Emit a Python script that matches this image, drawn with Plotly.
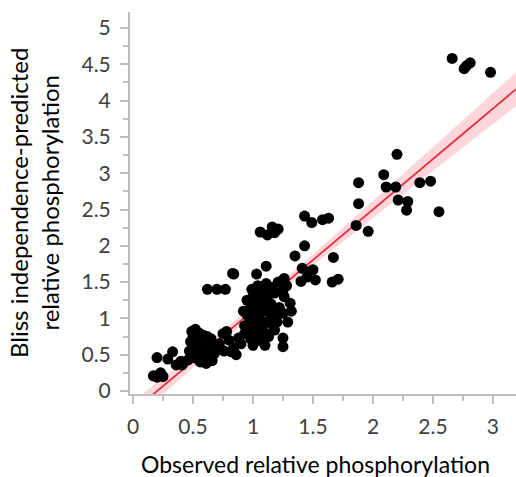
import numpy as np
import plotly.graph_objects as go

# Observed relative phosphorylation (x) vs Bliss independence-predicted (y)
obs = [
    0.17, 0.20, 0.23, 0.25, 0.22, 0.20, 0.29, 0.33, 0.36, 0.41, 0.46, 0.40,
    0.49, 0.52, 0.55, 0.50, 0.48, 0.53, 0.56, 0.50, 0.47, 0.52, 0.55, 0.58,
    0.60, 0.62, 0.65, 0.63, 0.57, 0.60, 0.53, 0.62, 0.66, 0.68, 0.70, 0.61,
    0.66, 0.56, 0.75, 0.72, 0.64, 0.58, 0.51, 0.82, 0.88, 0.80, 0.84, 0.78,
    0.93, 0.90, 0.86, 0.76,
    0.62, 0.70, 0.77, 0.84, 0.83,
    0.95, 0.98, 1.00, 1.02, 1.05, 1.08, 1.10, 1.12, 1.15, 1.18, 1.20, 1.22,
    0.95, 0.97, 1.00, 1.03, 1.06, 1.08, 1.12, 1.15, 1.17, 1.20, 1.25, 1.29,
    1.31, 1.25, 1.09, 1.00, 1.03, 0.98, 1.05, 1.10, 1.13, 1.18, 1.25, 1.25,
    1.10, 1.00, 0.93, 0.92, 1.07, 1.14, 1.02, 0.99, 1.04, 1.11, 1.16, 1.21,
    1.26, 1.03, 1.11, 1.06, 1.12, 1.16, 1.21, 1.18, 1.35, 1.43, 1.43, 1.49,
    1.58, 1.63, 1.41, 1.46, 1.50, 1.45, 1.52, 1.40, 1.66, 1.71, 1.67, 1.26,
    1.28, 1.32, 0.96,
    1.86, 1.96, 1.88, 1.88, 2.09, 2.11, 2.19, 2.20, 2.21, 2.29, 2.28, 2.39,
    2.48, 2.55, 2.66, 2.76, 2.78, 2.81, 2.98,
]
pred = [
    0.21, 0.19, 0.25, 0.20, 0.22, 0.46, 0.44, 0.54, 0.36, 0.36, 0.43, 0.41,
    0.82, 0.85, 0.80, 0.75, 0.68, 0.72, 0.66, 0.60, 0.55, 0.58, 0.53, 0.62,
    0.70, 0.75, 0.72, 0.62, 0.48, 0.45, 0.45, 0.55, 0.60, 0.52, 0.59, 0.38,
    0.42, 0.40, 0.79, 0.65, 0.50, 0.77, 0.65, 0.54, 0.73, 0.70, 0.60, 0.82,
    0.79, 0.65, 0.50, 0.55,
    1.40, 1.40, 1.40, 1.61, 1.62,
    1.25, 1.15, 1.30, 1.20, 1.35, 1.25, 1.10, 1.30, 1.20, 1.35, 1.05, 1.15,
    1.05, 0.95, 1.00, 1.08, 0.98, 0.90, 0.95, 1.00, 0.90, 0.95, 1.07, 0.95,
    1.21, 1.39, 1.35, 0.85, 0.78, 0.72, 0.70, 0.80, 0.75, 0.84, 0.73, 0.61,
    0.63, 0.63, 0.90, 1.10, 1.15, 1.10, 0.90, 1.40, 1.45, 1.48, 1.43, 1.50,
    1.55, 1.61, 1.72, 2.19, 2.15, 2.26, 2.23, 2.18, 1.86, 2.00, 2.41, 2.32,
    2.36, 2.38, 1.69, 1.64, 1.67, 1.57, 1.53, 1.51, 1.50, 1.54, 1.84, 1.30,
    1.45, 1.10, 0.80,
    2.28, 2.20, 2.58, 2.87, 2.98, 2.81, 2.81, 3.26, 2.63, 2.61, 2.49, 2.87,
    2.89, 2.47, 4.58, 4.44, 4.48, 4.52, 4.39,
]

# Regression line
fit_slope = 1.39
fit_intercept = -0.28

x_ticks = [0, 0.5, 1, 1.5, 2, 2.5, 3]
y_ticks = [0, 0.5, 1, 1.5, 2, 2.5, 3, 3.5, 4, 4.5, 5]
x_range = [-0.025, 3.192]
y_range = [-0.041, 5.22]

# 95% confidence band around the fitted line
xa = np.array(obs)
ya = np.array(pred)
n = len(xa)
resid = ya - (fit_slope * xa + fit_intercept)
s = np.sqrt(np.sum(resid ** 2) / (n - 2))
sxx = np.sum((xa - xa.mean()) ** 2)
xg = np.linspace(x_range[0], x_range[1], 200)
yg = fit_slope * xg + fit_intercept
half = 1.97 * s * np.sqrt(1.0 / n + (xg - xa.mean()) ** 2 / sxx)

font_family = "Lato, 'Open Sans', sans-serif"
tick_color = "#404040"
axis_color = "#bfbfbf"

fig = go.Figure()
fig.add_trace(go.Scatter(x=xg, y=yg - half, mode="lines",
                         line=dict(width=0), hoverinfo="skip", showlegend=False))
fig.add_trace(go.Scatter(x=xg, y=yg + half, mode="lines", fill="tonexty",
                         fillcolor="rgba(244,120,135,0.30)",
                         line=dict(width=0), hoverinfo="skip", showlegend=False))
fig.add_trace(go.Scatter(x=xg, y=yg, mode="lines",
                         line=dict(color="#e8303f", width=1.8),
                         hoverinfo="skip", showlegend=False))
fig.add_trace(go.Scatter(x=obs, y=pred, mode="markers",
                         marker=dict(color="black", size=11, line=dict(width=0)),
                         showlegend=False))

axis_common = dict(
    showgrid=False, zeroline=False, showline=True, linecolor=axis_color,
    linewidth=2, ticks="outside", ticklen=8, tickwidth=2, tickcolor=axis_color,
    tickfont=dict(family=font_family, size=21, color=tick_color),
    ticklabelstandoff=5,
)

fig.update_layout(
    width=516, height=477,
    margin=dict(l=130, r=0, t=12, b=83),
    plot_bgcolor="white", paper_bgcolor="white",
    xaxis=dict(range=x_range, tickvals=x_ticks, ticktext=[f"{v:g}" for v in x_ticks],
               minor=dict(dtick=0.25, tick0=0, ticks="outside", ticklen=5,
                          tickwidth=2, tickcolor=axis_color),
               **axis_common),
    yaxis=dict(range=y_range, tickvals=y_ticks, ticktext=[f"{v:g}" for v in y_ticks],
               minor=dict(dtick=0.25, tick0=0, ticks="outside", ticklen=5,
                          tickwidth=2, tickcolor=axis_color),
               **axis_common),
    annotations=[
        dict(text="Observed relative phosphorylation", xref="paper", yref="paper",
             x=0.48, y=0, yshift=-70, xanchor="center", yanchor="middle",
             showarrow=False, font=dict(family=font_family, size=23, color="black")),
        dict(text="Bliss independence-predicted<br>relative phosphorylation",
             xref="paper", yref="paper", x=0, y=0.5, xshift=-96,
             xanchor="center", yanchor="middle", textangle=-90, showarrow=False,
             font=dict(family=font_family, size=24, color="black")),
    ],
)

fig.write_html("out.html")
